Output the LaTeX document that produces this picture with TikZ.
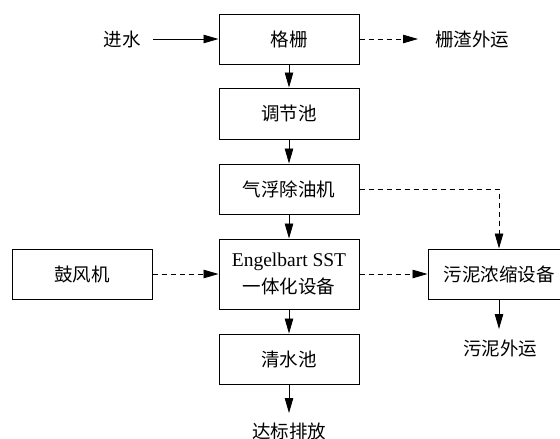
\documentclass[tikz,border=0pt]{standalone}
\usepackage{fontspec}
\setmainfont{Liberation Serif}
\newfontfamily\cjk{Noto Sans CJK SC}
\usetikzlibrary{arrows.meta}
\begin{document}
\begin{tikzpicture}[x=1pt,y=-1pt,
  font=\fontsize{18.5}{27}\selectfont\cjk,
  box/.style={draw,line width=1pt,minimum width=140pt,minimum height=50pt,inner sep=0pt,align=center},
  lbl/.style={inner sep=0pt},
  flow/.style={line width=0.8pt,-{Triangle[length=15pt,width=8.5pt]}},
  dflow/.style={flow,dash pattern=on 5pt off 4pt}]
\useasboundingbox (0,0) rectangle (560,439);
\node[box] (gs) at (289,39) {格栅};
\node[box,minimum height=51pt] (tj) at (289,113.5) {调节池};
\node[box] (qf) at (289,189) {气浮除油机};
\node[box,minimum height=70pt] (eb) at (289,274) {{\rmfamily\fontsize{19.5}{27}\selectfont Engelbart SST}\\一体化设备};
\node[box] (qs) at (289,359) {清水池};
\node[box] (gf) at (82,274) {鼓风机};
\node[box,minimum width=142pt] (wn) at (499,274) {污泥浓缩设备};
\node[lbl] (in) at (122,39) {进水};
\node[lbl] (zz) at (472,39) {栅渣外运};
\node[lbl] (db) at (289,431) {达标排放};
\node[lbl] (ny) at (500,348) {污泥外运};
\coordinate (inE) at (153,39);
\coordinate (zzW) at (418,39);
\coordinate (dbN) at (289,413);
\coordinate (nyN) at (499,329);
\draw[flow] (inE) -- (gs.west);
\draw[dflow] (gs.east) -- (zzW);
\draw[flow] (gs) -- (tj);
\draw[flow] (tj) -- (qf);
\draw[flow] (qf) -- (eb);
\draw[flow] (eb) -- (qs);
\draw[flow] (qs) -- (dbN);
\draw[dflow] (gf) -- (eb);
\draw[dflow] (eb) -- (wn.west);
\draw[dflow] (qf.east) -| (wn.north);
\draw[flow] (wn.south) -- (nyN);
\end{tikzpicture}
\end{document}
